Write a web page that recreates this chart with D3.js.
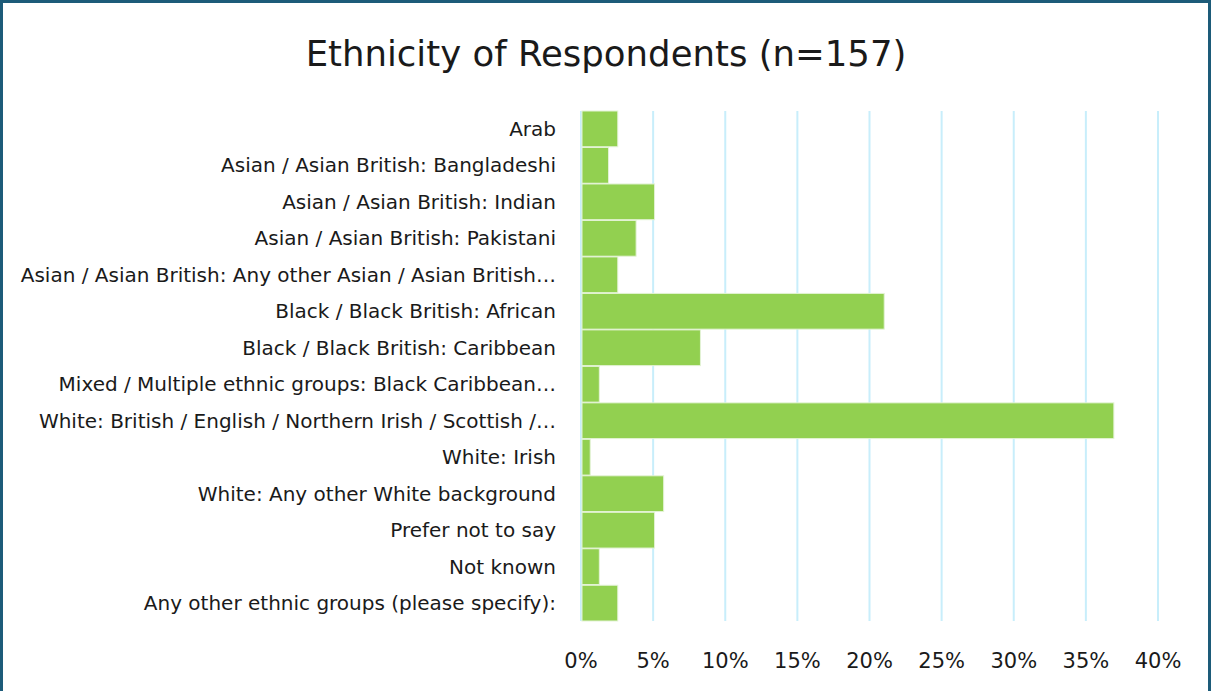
<!DOCTYPE html>
<html>
<head>
<meta charset="utf-8">
<script src="https://cdn.jsdelivr.net/npm/d3@7"></script>
<style>
  body { margin: 0; background: #fff; }
  text { font-family: "DejaVu Sans", "Noto Sans", sans-serif; fill: #1a1a1a; }
</style>
</head>
<body>
<div id="chart"></div>
<script>
const categories = [
    "Arab",
    "Asian / Asian British: Bangladeshi",
    "Asian / Asian British: Indian",
    "Asian / Asian British: Pakistani",
    "Asian / Asian British: Any other Asian / Asian British…",
    "Black / Black British: African",
    "Black / Black British: Caribbean",
    "Mixed / Multiple ethnic groups: Black Caribbean…",
    "White: British / English / Northern Irish / Scottish /…",
    "White: Irish",
    "White: Any other White background",
    "Prefer not to say",
    "Not known",
    "Any other ethnic groups (please specify):"
];
// percent of respondents
const percents = [2.55, 1.91, 5.10, 3.82, 2.55, 21.02, 8.28, 1.27, 36.94, 0.64, 5.73, 5.10, 1.27, 2.55];
const ticks = [0, 5, 10, 15, 20, 25, 30, 35, 40];

const width = 1211;
const height = 691;
const margin = { top: 111, right: 53, bottom: 70, left: 581 };

const svg = d3.select("#chart").append("svg")
    .attr("width", width)
    .attr("height", height);

// frame
svg.append("rect")
    .attr("x", 1.5)
    .attr("y", 1.5)
    .attr("width", width - 3)
    .attr("height", height + 10)
    .attr("fill", "none")
    .attr("stroke", "#1d5b79")
    .attr("stroke-width", 3);

svg.append("text")
    .attr("x", 606)
    .attr("y", 66)
    .attr("text-anchor", "middle")
    .style("font-size", "35.5px")
    .text("Ethnicity of Respondents (n=157)");

const x = d3.scaleLinear()
    .domain([0, 40])
    .range([margin.left, 1158]);

const y = d3.scaleBand()
    .domain(categories)
    .range([margin.top, 621])
    .paddingInner(0.02)
    .paddingOuter(0);

// gridlines
svg.selectAll(".grid")
    .data(ticks)
    .enter().append("line")
    .attr("class", "grid")
    .attr("x1", d => x(d))
    .attr("x2", d => x(d))
    .attr("y1", margin.top)
    .attr("y2", 621)
    .attr("stroke", "#c8eefb")
    .attr("stroke-width", 2);

// bars
svg.selectAll(".bar")
    .data(percents)
    .enter().append("rect")
    .attr("class", "bar")
    .attr("x", x(0) + 1)
    .attr("y", (d, i) => y(categories[i]))
    .attr("width", d => x(d) - x(0) - 1)
    .attr("height", y.bandwidth())
    .attr("fill", "#92d050")
    .attr("stroke", "#e4f3d6")
    .attr("stroke-width", 1);

// category labels
svg.selectAll(".cat")
    .data(categories)
    .enter().append("text")
    .attr("class", "cat")
    .attr("x", 556)
    .attr("y", d => y(d) + y.bandwidth() / 2)
    .attr("dy", "0.35em")
    .attr("text-anchor", "end")
    .style("font-size", "20px")
    .text(d => d);

// x tick labels
svg.selectAll(".tick-label")
    .data(ticks)
    .enter().append("text")
    .attr("class", "tick-label")
    .attr("x", d => x(d))
    .attr("y", 668)
    .attr("text-anchor", "middle")
    .style("font-size", "21px")
    .text(d => d + "%");
</script>
</body>
</html>
